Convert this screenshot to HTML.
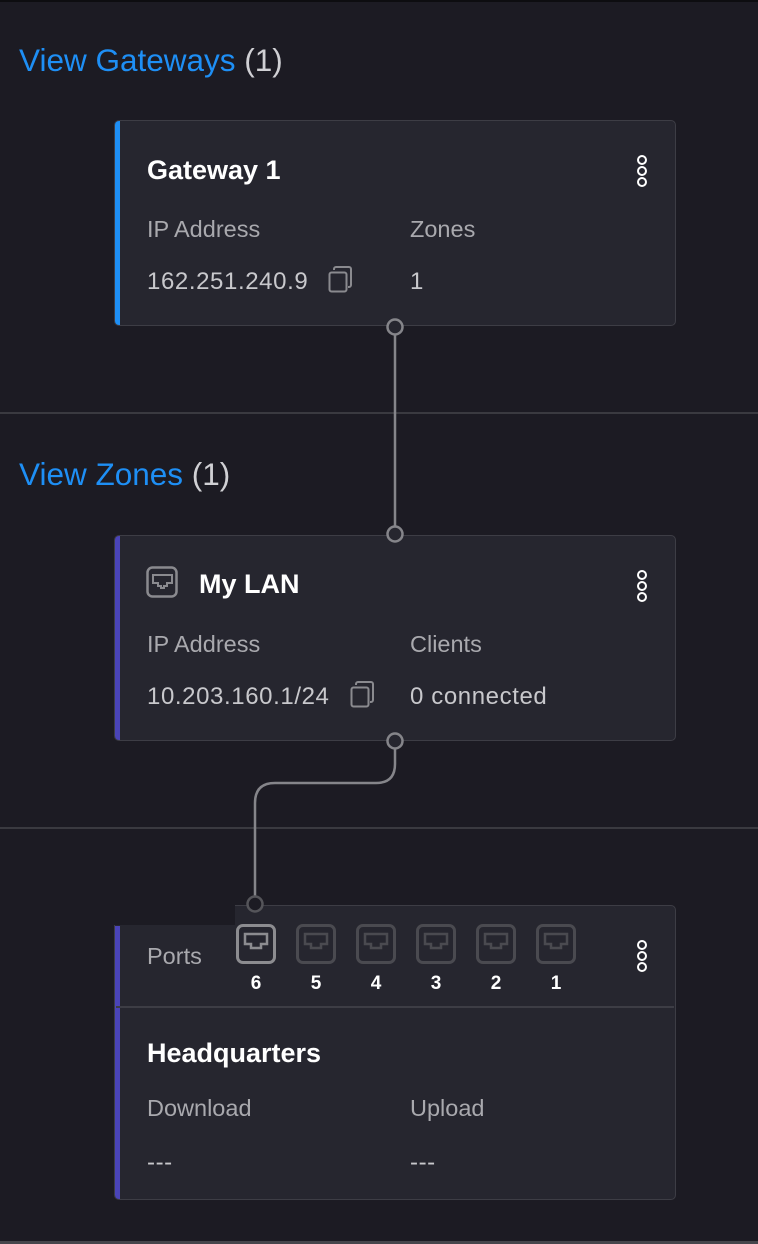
<!DOCTYPE html>
<html><head><meta charset="utf-8"><style>
*{margin:0;padding:0;box-sizing:border-box}
body{width:758px;height:1244px;background:#1c1b23;position:relative;overflow:hidden;font-family:"Liberation Sans",Arial,sans-serif}
.abs{position:absolute}
.hdr{position:absolute;left:19px;font-size:31.5px;color:#1e8ff5;white-space:nowrap;line-height:36px}
.hdr span{color:#d0d0d4}
.card{position:absolute;left:114px;width:562px;background:#26262f;border:1.5px solid #3d3d45;border-radius:5px;overflow:hidden}
.card .acc{position:absolute;left:0;top:0;bottom:0;width:5px}
.t{position:absolute;font-size:27px;font-weight:bold;color:#fff;white-space:nowrap;line-height:30px}
.l{position:absolute;font-size:23.5px;color:#a9a9ae;white-space:nowrap;line-height:28px}
.v{position:absolute;font-size:24px;letter-spacing:0.6px;color:#c8c8cc;white-space:nowrap;line-height:28px}
.dots{position:absolute;width:10px}
.dots i{display:block;width:10px;height:10px;border:2.5px solid #fff;border-radius:50%;margin-bottom:1px}
.port{position:absolute;top:924px;width:40px;height:40px;border:3px solid #4a4a50;border-radius:7px}
.port.on{border-color:#8c8c90}
.num{position:absolute;top:973px;width:40px;text-align:center;font-size:19px;font-weight:bold;color:#fff}
</style></head><body>
<div class="abs" style="left:0;top:0;width:758px;height:2px;background:#0d0d10"></div>
<div class="abs" style="left:0;top:412px;width:758px;height:2px;background:#3a3a40"></div>
<div class="abs" style="left:0;top:827px;width:758px;height:2px;background:#3a3a40"></div>
<div class="abs" style="left:0;top:1241px;width:758px;height:3px;background:#46464c"></div>

<div class="hdr" style="top:42px">View Gateways <span>(1)</span></div>
<div class="hdr" style="top:456px">View Zones <span>(1)</span></div>
<div class="hdr" style="top:870px">View Sites <span>(1)</span></div>

<div class="card" style="top:120px;height:206px"><div class="acc" style="background:#1e8ff5"></div></div>
<div class="t" style="left:147px;top:155px">Gateway 1</div>
<div class="l" style="left:147px;top:215px">IP Address</div>
<div class="l" style="left:410px;top:215px">Zones</div>
<div class="v" style="left:147px;top:268px">162.251.240.9</div>
<div class="v" style="left:410px;top:268px">1</div>
<svg class="abs" style="left:328px;top:266px" width="26" height="28"><rect x="1.5" y="6.5" width="17" height="19" rx="2" fill="none" stroke="#8a8a8f" stroke-width="2"/><path d="M6 4 V3 a2 2 0 0 1 2-2 h13 a2 2 0 0 1 2 2 v16 a2 2 0 0 1 -2 2 h-1" fill="none" stroke="#8a8a8f" stroke-width="2"/></svg>
<div class="dots" style="left:637px;top:155px"><i></i><i></i><i></i></div>

<div class="card" style="top:535px;height:206px"><div class="acc" style="background:#4a44b8"></div></div>
<svg class="abs" style="left:146px;top:566px" width="33" height="33"><rect x="1.5" y="1.5" width="29" height="29" rx="5" fill="none" stroke="#8a8a8f" stroke-width="2.5"/><path d="M7 9 h19 v8 h-5 v3 h-3 v2 h-3 v-2 h-3 v-3 h-5z" fill="none" stroke="#8a8a8f" stroke-width="2"/></svg>
<div class="t" style="left:199px;top:569px">My LAN</div>
<div class="l" style="left:147px;top:630px">IP Address</div>
<div class="l" style="left:410px;top:630px">Clients</div>
<div class="v" style="left:147px;top:683px">10.203.160.1/24</div>
<div class="v" style="left:410px;top:683px">0 connected</div>
<svg class="abs" style="left:350px;top:681px" width="26" height="28"><rect x="1.5" y="6.5" width="17" height="19" rx="2" fill="none" stroke="#8a8a8f" stroke-width="2"/><path d="M6 4 V3 a2 2 0 0 1 2-2 h13 a2 2 0 0 1 2 2 v16 a2 2 0 0 1 -2 2 h-1" fill="none" stroke="#8a8a8f" stroke-width="2"/></svg>
<div class="dots" style="left:637px;top:570px"><i></i><i></i><i></i></div>

<div class="card" style="top:905px;height:295px"><div class="acc" style="background:#4a44b8;top:20px"></div></div>
<div class="abs" style="left:0;top:829px;width:235px;height:96px;background:#1c1b23"></div>
<div class="abs" style="left:116px;top:1006px;width:558px;height:2px;background:#3d3d45"></div>
<div class="l" style="left:147px;top:942px">Ports</div>
<div class="port on" style="left:236px"></div><div class="port" style="left:296px"></div><div class="port" style="left:356px"></div><div class="port" style="left:416px"></div><div class="port" style="left:476px"></div><div class="port" style="left:536px"></div>
<svg class="abs" style="left:236px;top:924px" width="340" height="40">
<g fill="none" stroke-width="2.5">
<path d="M9 10 h22 v10 h-6 v4 h-10 v-4 h-6z" stroke="#8c8c90"/>
<path d="M69 10 h22 v10 h-6 v4 h-10 v-4 h-6z" stroke="#4a4a50"/>
<path d="M129 10 h22 v10 h-6 v4 h-10 v-4 h-6z" stroke="#4a4a50"/>
<path d="M189 10 h22 v10 h-6 v4 h-10 v-4 h-6z" stroke="#4a4a50"/>
<path d="M249 10 h22 v10 h-6 v4 h-10 v-4 h-6z" stroke="#4a4a50"/>
<path d="M309 10 h22 v10 h-6 v4 h-10 v-4 h-6z" stroke="#4a4a50"/>
</g></svg>
<div class="num" style="left:236px">6</div><div class="num" style="left:296px">5</div><div class="num" style="left:356px">4</div><div class="num" style="left:416px">3</div><div class="num" style="left:476px">2</div><div class="num" style="left:536px">1</div>
<div class="dots" style="left:637px;top:940px"><i></i><i></i><i></i></div>
<div class="t" style="left:147px;top:1038px">Headquarters</div>
<div class="l" style="left:147px;top:1094px">Download</div>
<div class="l" style="left:410px;top:1094px">Upload</div>
<div class="v" style="left:147px;top:1149px">---</div>
<div class="v" style="left:410px;top:1149px">---</div>

<svg class="abs" style="left:0;top:0" width="758" height="1244">
<g fill="none" stroke="#85858a" stroke-width="2.5">
<line x1="395" y1="335" x2="395" y2="526"/>
<path d="M395 749 V764 Q395 783 376 783 H275 Q255 783 255 803 V896"/>
<circle cx="395" cy="327" r="7.5" fill="#26262f"/>
<circle cx="395" cy="534" r="7.5" fill="#26262f"/>
<circle cx="395" cy="741" r="7.5" fill="#26262f"/>
<circle cx="255" cy="904" r="7.5" fill="#1c1b23" stroke="#55555a"/>
</g></svg>
</body></html>
